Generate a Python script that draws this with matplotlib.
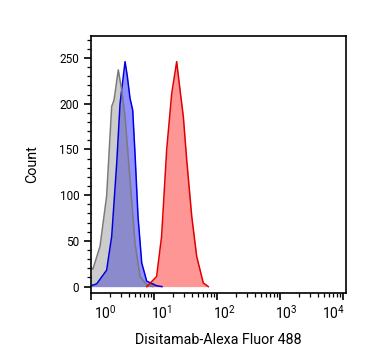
import numpy as np
import matplotlib.pyplot as plt
import matplotlib.transforms as mtransforms
from matplotlib.ticker import MultipleLocator, LogLocator, NullFormatter

plt.rcParams['font.family'] = ['Roboto', 'DejaVu Sans']
plt.rcParams['mathtext.fontset'] = 'custom'
plt.rcParams['mathtext.rm'] = 'Roboto'
plt.rcParams['mathtext.it'] = 'Roboto'

# histogram outlines (intensity, count)
gray_x = [1.0, 1.07, 1.39, 1.77, 2.13, 2.32, 2.71, 3.07, 3.47, 4.16, 4.99, 6.0, 7.66, 9.6]
gray_y = [21, 19, 44, 99, 197, 204, 237, 215, 186, 117, 48, 11, 2, 0]

blue_x = [1.0, 1.23, 1.77, 2.13, 2.56, 2.89, 3.47, 3.77, 4.16, 4.59, 4.99, 5.57, 6.38, 7.66, 11.0, 13.4]
blue_y = [1, 3, 18, 55, 135, 200, 246, 230, 206, 193, 146, 77, 26, 6, 1, 0]

red_x = [7.66, 11.0, 13.2, 15.9, 19.1, 22.9, 25.9, 29.2, 33.0, 39.7, 47.6, 60.6, 72.8]
red_y = [0, 11, 55, 150, 211, 246, 215, 186, 139, 77, 33, 4, 0]

xticks = [1, 10, 100, 1000, 10000]
xlabels = ['$\\mathregular{10^0}$', '$\\mathregular{10^1}$', '$\\mathregular{10^2}$',
           '$\\mathregular{10^3}$', '$\\mathregular{10^4}$']

fig = plt.figure(figsize=(3.67, 3.64), dpi=100)
ax = fig.add_axes([0.248, 0.195, 0.695, 0.706])

# blue under the gray so the overlap goes greyish-purple
ax.fill_between(blue_x, blue_y, color='#0000ff', alpha=0.43, lw=0)
ax.fill_between(gray_x, gray_y, color='#808080', alpha=0.4, lw=0)
ax.fill_between(red_x, red_y, color='#ff0000', alpha=0.41, lw=0)
ax.plot(blue_x, blue_y, color='#0000dd', lw=1.1)
ax.plot(gray_x, gray_y, color='#7a7a7a', lw=1.1)
ax.plot(red_x, red_y, color='#e00000', lw=1.1)

ax.set_xscale('log')
ax.set_xlim(1, 11200)
ax.set_ylim(-7, 274)
ax.set_xticks(xticks)
ax.set_xticklabels(xlabels, fontsize=10)
ax.xaxis.set_minor_locator(LogLocator(base=10, subs=np.arange(2, 10)))
ax.xaxis.set_minor_formatter(NullFormatter())
ax.yaxis.set_major_locator(MultipleLocator(50))
ax.yaxis.set_minor_locator(MultipleLocator(10))

ax.tick_params(which='major', direction='out', length=5, width=1.2, color='black')
ax.tick_params(axis='y', which='major', labelsize=8.5)
ax.tick_params(which='minor', direction='out', length=3, width=0.9, color='black')
ax.tick_params(axis='x', which='major', pad=3)
for s in ax.spines.values():
    s.set_linewidth(1.2)

# x labels sit a bit right of their ticks, last one pulled inside
shifts = [14, 8, 7, 6, -9]
for lab, dx in zip(ax.get_xticklabels(), shifts):
    lab.set_transform(lab.get_transform() + mtransforms.ScaledTranslation(dx / 100, 0, fig.dpi_scale_trans))

ax.set_xlabel('Disitamab-Alexa Fluor 488', fontsize=10.3, labelpad=8)
ax.set_ylabel('Count', fontsize=10.3, labelpad=15)

plt.savefig('out.png', dpi=100)
